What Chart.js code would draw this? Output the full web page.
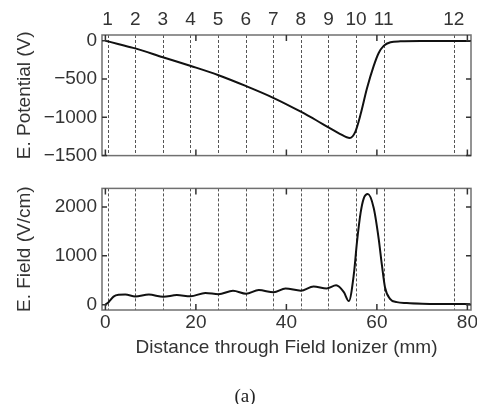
<!DOCTYPE html>
<html>
<head>
<meta charset="utf-8">
<title>Field Ionizer</title>
<script src="https://cdn.jsdelivr.net/npm/chart.js@4.4.1/dist/chart.umd.min.js"></script>
<style>
  body { margin: 0; background: #fff; }
  #wrap { position: relative; width: 477px; height: 404px; overflow: hidden; }
  #top, #bottom { position: absolute; left: 0; }
  #top { top: 0; }
  #bottom { top: 172px; }
  #caption { position: absolute; left: 0; width: 490px; top: 385px; text-align: center;
             font: 19px/21px "Liberation Serif", serif; color: #222; }
</style>
</head>
<body>
<div id="wrap">
  <canvas id="top" width="477" height="172"></canvas>
  <canvas id="bottom" width="477" height="232"></canvas>
  <div id="caption">(a)</div>
</div>
<script>
// electrode positions (mm) and their numbers on the top axis
const electrodePos = [0.5, 6.6, 12.7, 18.8, 24.9, 31.0, 37.1, 43.2, 49.3, 55.4, 61.5, 77.0];
const electrodeLabels = ['1', '2', '3', '4', '5', '6', '7', '8', '9', '10', '11', '12'];

// tick values
const distTicks = [0, 20, 40, 60, 80];
const potTicks = [-1500, -1000, -500, 0];
const fieldTicks = [0, 1000, 2000];

// electric potential (V) vs distance (mm)
const potentialX = [0, 3, 6.6, 12.7, 18.9, 25, 31, 37.1, 43.3, 46.5, 49.4, 51.8, 54, 55.2, 56.4, 57.8, 59.3, 60.4, 61.5, 63, 65.2, 70, 81];
const potentialV = [0, -45, -100, -215, -330, -450, -590, -745, -930, -1035, -1135, -1215, -1270, -1193, -961, -624, -329, -160, -67, -20, -8, -3, -2];

// electric field (V/cm) vs distance (mm)
const fieldX = [0, 0.7, 1.8, 2.9, 4.4, 6.6, 9.6, 12.8, 15.8, 18.8, 22.1, 25, 28.2, 31.1, 33.9, 37.2, 39.8, 43.2, 46, 48.9, 51, 52.7, 53.8, 54.9, 55.6, 56.4, 57.1, 58, 59.3, 60.4, 61.1, 61.8, 62.9, 64.4, 66.6, 70, 75, 81];
const fieldE = [0, 50, 165, 200, 205, 168, 205, 162, 195, 172, 238, 215, 282, 222, 298, 252, 331, 285, 371, 331, 395, 255, 72, 617, 1281, 1878, 2177, 2263, 1978, 1347, 817, 351, 119, 52, 32, 18, 12, 10];

const xMin = -0.75, xMax = 80.8;
const FONT = { family: '"Liberation Sans", Arial, sans-serif', size: 19 };
const TXT = '#333';

function toPoints(xs, ys) {
  return xs.map((x, i) => ({ x: x, y: ys[i] }));
}

// dashed electrode lines under the curve, frame + inward ticks on top
const framePlugin = {
  id: 'frame',
  beforeDatasetsDraw(chart) {
    const { ctx, chartArea: a, scales } = chart;
    ctx.save();
    ctx.strokeStyle = '#555';
    ctx.lineWidth = 1;
    ctx.setLineDash([3, 2]);
    electrodePos.forEach(p => {
      const x = Math.round(scales.x.getPixelForValue(p)) + 0.5;
      ctx.beginPath();
      ctx.moveTo(x, a.top);
      ctx.lineTo(x, a.bottom);
      ctx.stroke();
    });
    ctx.restore();
  },
  afterDraw(chart) {
    const { ctx, chartArea: a, scales } = chart;
    ctx.save();
    ctx.strokeStyle = '#707070';
    ctx.lineWidth = 1.5;
    ctx.strokeRect(a.left, a.top, a.right - a.left, a.bottom - a.top);
    ctx.strokeStyle = '#333';
    ctx.lineWidth = 1.5;
    ctx.beginPath();
    distTicks.forEach(v => {
      const x = scales.x.getPixelForValue(v);
      ctx.moveTo(x, a.top); ctx.lineTo(x, a.top + 6);
      ctx.moveTo(x, a.bottom); ctx.lineTo(x, a.bottom - 6);
    });
    scales.y.ticks.forEach(t => {
      const y = scales.y.getPixelForValue(t.value);
      ctx.moveTo(a.left, y); ctx.lineTo(a.left + 5, y);
      ctx.moveTo(a.right, y); ctx.lineTo(a.right - 5, y);
    });
    ctx.stroke();
    ctx.restore();
  }
};

const lineStyle = {
  borderColor: '#111',
  borderWidth: 2,
  pointRadius: 0,
  cubicInterpolationMode: 'monotone',
  fill: false
};

function yAxis(min, max, ticks, title) {
  return {
    type: 'linear',
    min: min,
    max: max,
    afterBuildTicks: s => { s.ticks = ticks.map(v => ({ value: v })); },
    afterFit: s => { s.width = 102; },
    grid: { display: false, drawTicks: false },
    border: { display: false },
    ticks: { font: FONT, color: TXT, padding: 5, callback: v => String(v).replace('-', '\u2212') },
    title: { display: true, text: title, font: FONT, color: TXT, padding: { top: 13 } }
  };
}

// top panel: potential
new Chart(document.getElementById('top'), {
  type: 'line',
  data: { datasets: [Object.assign({ data: toPoints(potentialX, potentialV) }, lineStyle)] },
  options: {
    responsive: false,
    animation: false,
    layout: { padding: { left: 0, right: 6, top: 0, bottom: 12 } },
    plugins: { legend: { display: false }, tooltip: { enabled: false } },
    scales: {
      x: { type: 'linear', min: xMin, max: xMax, display: false },
      x2: {
        type: 'linear', position: 'top', min: xMin, max: xMax,
        afterBuildTicks: s => { s.ticks = electrodePos.map(v => ({ value: v })); },
        afterFit: s => { s.height = 35; s.paddingLeft = 0; s.paddingRight = 0; },
        grid: { display: false, drawTicks: false },
        border: { display: false },
        ticks: { font: FONT, color: TXT, padding: 4, autoSkip: false, maxRotation: 0,
                 callback: (v, i) => electrodeLabels[i] }
      },
      y: yAxis(-1500, 75, potTicks, 'E. Potential (V)')
    }
  },
  plugins: [framePlugin]
});

// bottom panel: field
new Chart(document.getElementById('bottom'), {
  type: 'line',
  data: { datasets: [Object.assign({ data: toPoints(fieldX, fieldE) }, lineStyle)] },
  options: {
    responsive: false,
    animation: false,
    layout: { padding: { left: 0, right: 6, top: 13, bottom: 44 } },
    plugins: { legend: { display: false }, tooltip: { enabled: false } },
    scales: {
      x: {
        type: 'linear', min: xMin, max: xMax,
        afterBuildTicks: s => { s.ticks = distTicks.map(v => ({ value: v })); },
        afterFit: s => { s.height = 50; s.paddingLeft = 0; s.paddingRight = 0; },
        grid: { display: false, drawTicks: false },
        border: { display: false },
        ticks: { font: FONT, color: TXT, padding: 1, autoSkip: false, maxRotation: 0 },
        title: { display: true, text: 'Distance through Field Ionizer (mm)', font: FONT, color: TXT,
                 padding: { top: 0, bottom: 1 } }
      },
      y: yAxis(-110, 2380, fieldTicks, 'E. Field (V/cm)')
    }
  },
  plugins: [framePlugin]
});
</script>
</body>
</html>
